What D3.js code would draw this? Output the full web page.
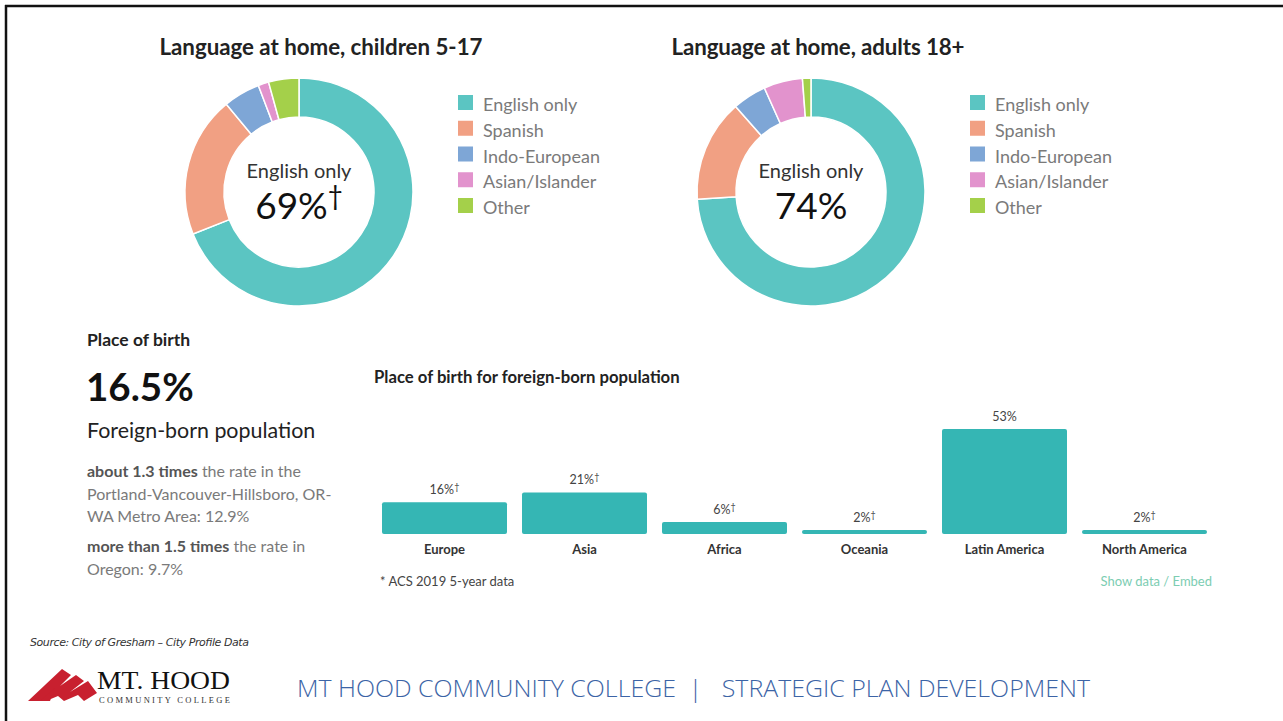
<!DOCTYPE html>
<html><head><meta charset="utf-8">
<script src="https://cdn.jsdelivr.net/npm/d3@7"></script>
<style>
html,body{margin:0;padding:0;background:#fff;}
svg{display:block;font-family:Lato,"Open Sans",sans-serif;}
</style></head>
<body>
<svg id="chart" width="1283" height="721"></svg>
<script>
// ---- data ----
const languages = ["English only","Spanish","Indo-European","Asian/Islander","Other"];
const langColors = ["#5bc5c2","#f1a083","#7ea6d6","#e293cd","#a4d04a"];
const childrenShares = [69, 20, 5.2, 1.5, 4.3];
const adultShares = [74, 14.5, 4.8, 5.5, 1.2];
const childrenCenter = ["English only","69%","†"];
const adultCenter = ["English only","74%",""];

const regions = ["Europe","Asia","Africa","Oceania","Latin America","North America"];
const regionValues = [16, 21, 6, 2, 53, 2];
const regionLabels = ["16%","21%","6%","2%","53%","2%"];
const regionDagger = [true,true,true,true,false,true];

const svg = d3.select("#chart");

// frame
svg.append("line").attr("x1",5).attr("x2",1283).attr("y1",6).attr("y2",6).attr("stroke","#111").attr("stroke-width",2.5);
svg.append("line").attr("x1",6).attr("x2",6).attr("y1",5).attr("y2",721).attr("stroke","#111").attr("stroke-width",2.5);

// ---- donuts ----
function donut(cx, cy, title, titleX, titleLen, shares, centerTxt, legendX){
  svg.append("text").attr("x",titleX).attr("y",55).attr("text-anchor","middle")
    .attr("font-size",22.3).attr("font-weight",700).attr("fill","#222")
    .attr("textLength",titleLen).text(title);
  const g = svg.append("g").attr("transform",`translate(${cx},${cy})`);
  const pie = d3.pie().sort(null).value(d=>d);
  const arc = d3.arc().innerRadius(75).outerRadius(114);
  g.selectAll("path").data(pie(shares)).join("path")
    .attr("d",arc).attr("fill",(d,i)=>langColors[i]).attr("stroke","#fff").attr("stroke-width",1.5);
  g.append("text").attr("y",-14).attr("text-anchor","middle").attr("font-size",20).attr("fill","#333").text(centerTxt[0]);
  const t = g.append("text").attr("y",27).attr("text-anchor","middle").attr("font-size",37).attr("fill","#111");
  t.append("tspan").text(centerTxt[1]);
  if(centerTxt[2]) t.append("tspan").attr("dy",-14).attr("font-size",26).text(centerTxt[2]);
  const lg = svg.append("g");
  const ly = d3.scalePoint().domain(languages).range([104,207]);
  languages.forEach((l,i)=>{
    lg.append("rect").attr("x",legendX).attr("y",ly(l)-9).attr("width",15).attr("height",15).attr("fill",langColors[i]);
    lg.append("text").attr("x",legendX+25).attr("y",ly(l)+7).attr("font-size",18).attr("fill","#7a7a7a").text(l);
  });
}
donut(299,192,"Language at home, children 5-17",321,323,childrenShares,childrenCenter,458);
donut(811,192,"Language at home, adults 18+",818,293,adultShares,adultCenter,970);

// ---- left text block ----
const tb = svg.append("g");
tb.append("text").attr("x",87).attr("y",346).attr("font-size",17.5).attr("font-weight",700).attr("fill","#222").text("Place of birth");
tb.append("text").attr("x",86).attr("y",401).attr("font-size",38.5).attr("font-weight",700).attr("fill","#111").text("16.5%");
tb.append("text").attr("x",87).attr("y",438).attr("font-size",21.4).attr("fill","#222").text("Foreign-born population");
function para(y, lines){
  lines.forEach((ln,i)=>{
    const t = tb.append("text").attr("x",87).attr("y",y+i*22.5).attr("font-size",16).attr("fill","#7a7a7a");
    ln.forEach(([s,b])=>t.append("tspan").attr("font-weight",b?700:400).attr("fill",b?"#555":"#7a7a7a").text(s));
  });
}
para(477,[[["about 1.3 times",1],[" the rate in the",0]],[["Portland-Vancouver-Hillsboro, OR-",0]],[["WA Metro Area: 12.9%",0]]]);
para(552,[[["more than 1.5 times",1],[" the rate in",0]],[["Oregon: 9.7%",0]]]);

// ---- bar chart ----
svg.append("text").attr("x",374).attr("y",383).attr("font-size",16.7).attr("font-weight",700).attr("fill","#222").text("Place of birth for foreign-born population");
const x = d3.scaleBand().domain(regions).range([382,1207]).paddingInner(15/140).paddingOuter(0);
const y = d3.scaleLinear().domain([0,53]).range([534,429]);
const bars = svg.append("g");
regions.forEach((r,i)=>{
  const v = regionValues[i];
  bars.append("rect").attr("x",x(r)).attr("y",y(v)).attr("width",x.bandwidth())
    .attr("height",Math.max(3,y(0)-y(v))).attr("rx",2).attr("fill","#35b6b4");
  const lt = bars.append("text").attr("x",x(r)+x.bandwidth()/2).attr("y",Math.min(y(v),531)-8)
    .attr("text-anchor","middle").attr("font-size",12.5).attr("fill","#444");
  lt.append("tspan").text(regionLabels[i]);
  if(regionDagger[i]) lt.append("tspan").attr("dy",-4).attr("font-size",9).text("†");
  bars.append("text").attr("x",x(r)+x.bandwidth()/2).attr("y",554).attr("text-anchor","middle")
    .attr("font-size",13).attr("font-weight",700).attr("fill","#333").text(r);
});
svg.append("text").attr("x",380).attr("y",586).attr("font-size",13).attr("fill","#444").text("* ACS 2019 5-year data");
svg.append("text").attr("x",1212).attr("y",586).attr("text-anchor","end").attr("font-size",13).attr("fill","#7ccdb2").text("Show data / Embed");

// ---- footer ----
svg.append("text").attr("x",30).attr("y",646).attr("font-size",11).attr("font-style","italic").attr("fill","#333")
  .attr("font-family","'DejaVu Sans',sans-serif").attr("textLength",219).text("Source: City of Gresham – City Profile Data");
const logo = svg.append("g").attr("fill","#c8202f");
logo.append("path").attr("d","M28,701 L62,669 L71,675 L60,686 L76,675 L84,681 L70,692 L88,681 L97,693 L84,701 L78,695 L64,701 L58,696 L46,701 Z");
logo.append("path").attr("d","M40,701 L55,688 L50,701 Z");
svg.append("text").attr("x",97).attr("y",689).attr("font-family","'Liberation Serif',serif").attr("font-size",25)
  .attr("fill","#111").attr("textLength",133).attr("lengthAdjust","spacingAndGlyphs").text("MT. HOOD");
svg.append("text").attr("x",99).attr("y",703).attr("font-family","'Liberation Serif',serif").attr("font-size",8.5)
  .attr("fill","#333").attr("textLength",131).text("COMMUNITY COLLEGE");
svg.append("text").attr("x",297).attr("y",697).attr("font-family","'Open Sans',sans-serif").attr("font-weight",300)
  .attr("font-size",23).attr("fill","#3c64a6").attr("textLength",793).attr("lengthAdjust","spacingAndGlyphs")
  .text("MT HOOD COMMUNITY COLLEGE\u00A0\u00A0|\u00A0\u00A0\u00A0STRATEGIC PLAN DEVELOPMENT");
</script>
</body></html>
